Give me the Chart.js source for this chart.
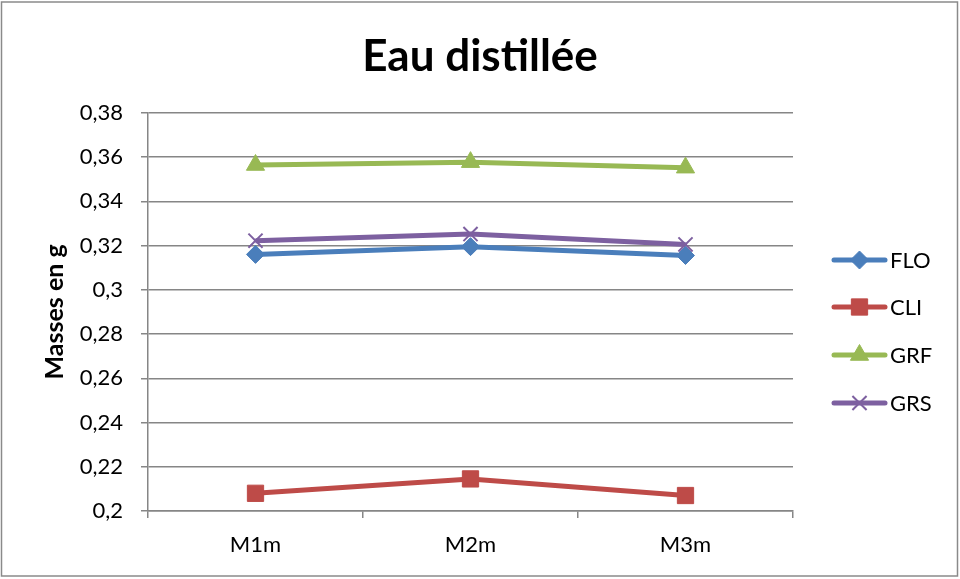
<!DOCTYPE html>
<html><head><meta charset="utf-8">
<script src="https://cdn.jsdelivr.net/npm/chart.js@4/dist/chart.umd.min.js"></script>
<style>html,body{margin:0;padding:0;background:#fff}#wrap{width:960px;height:579px;position:relative}</style>
</head><body><div id="wrap"><canvas id="c" width="960" height="579"></canvas></div>
<script>
const categories = ['M1m', 'M2m', 'M3m'];
const seriesNames = ['FLO', 'CLI', 'GRF', 'GRS'];
const floValues = [0.316, 0.3195, 0.3155];
const cliValues = [0.208, 0.2145, 0.207];
const grfValues = [0.3564, 0.3577, 0.3552];
const grsValues = [0.3222, 0.3252, 0.3205];
const yTickValues = [0.2, 0.22, 0.24, 0.26, 0.28, 0.3, 0.32, 0.34, 0.36, 0.38];

const FONT = 'Lato, "Liberation Sans", sans-serif';
const colors = ['#4A7EBB', '#BE4B48', '#98B954', '#7D60A0'];
const styles = ['rectRot', 'rect', 'triangle', 'crossRot'];
const radii = [9, 11.5, 10.5, 10];
const values = [floValues, cliValues, grfValues, grsValues];

const datasets = seriesNames.map((n, i) => ({
  label: n, data: values[i], borderColor: colors[i], backgroundColor: colors[i],
  borderWidth: 5, pointStyle: styles[i], pointRadius: radii[i], pointHoverRadius: radii[i],
  pointBorderWidth: i === 3 ? 2 : 1, pointBackgroundColor: colors[i], pointBorderColor: colors[i],
  tension: 0, fill: false, yAxisID: 'y'
}));

const legendPlugin = {
  id: 'customLegend',
  afterDraw(chart) {
    const ctx = chart.ctx;
    const ys = [260, 307, 355, 403];
    ctx.save();
    chart.data.datasets.forEach((ds, i) => {
      const y = ys[i];
      ctx.strokeStyle = ds.borderColor; ctx.lineWidth = 5; ctx.lineCap = 'round';
      ctx.beginPath(); ctx.moveTo(834, y); ctx.lineTo(885, y); ctx.stroke();
      ctx.lineCap = 'butt';
      const r = radii[i];
      ctx.fillStyle = ds.borderColor; ctx.lineWidth = i === 3 ? 2 : 1;
      Chart.helpers.drawPoint(ctx, {pointStyle: styles[i], radius: r, rotation: 0, borderWidth: ctx.lineWidth}, 859.5, y);
      ctx.fillStyle = '#000'; ctx.font = '22px ' + FONT; ctx.textBaseline = 'middle'; ctx.textAlign = 'left';
      ctx.fillText(ds.label, 890, y + 1);
    });
    ctx.strokeStyle = '#8a8a8a'; ctx.lineWidth = 1.5;
    ctx.strokeRect(1.5, 2, 956, 574);
    ctx.restore();
  }
};

new Chart(document.getElementById('c'), {
  type: 'line',
  data: { labels: categories, datasets },
  options: {
    responsive: false, animation: false, devicePixelRatio: 1,
    layout: { padding: 0 },
    plugins: {
      legend: { display: false }, tooltip: { enabled: false },
      title: { display: true, text: 'Eau distillée', color: '#000',
        font: { family: FONT, size: 44, weight: 'bold' }, padding: { top: 30, bottom: 30 } }
    },
    scales: {
      x: {
        offset: true,
        grid: { offset: true, drawOnChartArea: false, color: '#868686', lineWidth: 1.5, tickLength: 7 },
        border: { color: '#868686', width: 1.5 },
        ticks: { color: '#000', font: { family: FONT, size: 22 }, padding: 14 },
        afterFit: s => { s.height = 68; }
      },
      y: {
        min: 0.2, max: 0.38,
        afterBuildTicks: s => { s.ticks = yTickValues.map(v => ({ value: v })); },
        grid: { color: '#868686', lineWidth: 1.5, tickLength: 7 },
        border: { color: '#868686', width: 1.5 },
        ticks: { color: '#000', font: { family: FONT, size: 22 }, padding: 18,
          callback: v => String(Number(v.toFixed(2))).replace('.', ',') },
        title: { display: true, text: 'Masses en g', color: '#000',
          font: { family: FONT, size: 25, weight: 'bold' }, padding: { top: 40, bottom: 0 } },
        afterFit: s => { s.width = 148; }
      },
      yRight: {
        position: 'right', display: true, min: 0, max: 1,
        grid: { display: false, drawOnChartArea: false },
        border: { display: false },
        ticks: { display: false },
        afterFit: s => { s.width = 167; }
      }
    }
  },
  plugins: [legendPlugin]
});
</script></body></html>
